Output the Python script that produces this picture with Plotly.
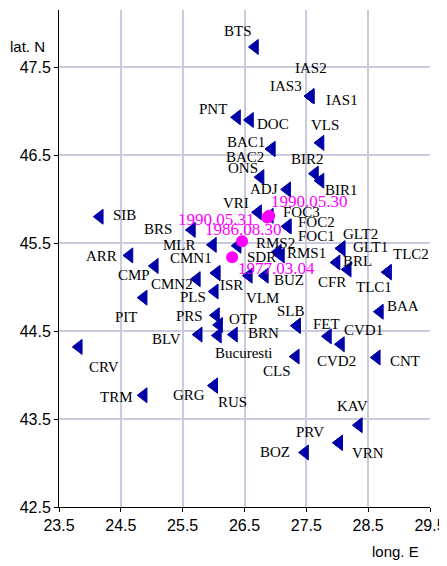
import plotly.graph_objects as go

# seismic stations (longitude E, latitude N)
stations = ['BTS', 'IAS1', 'IAS2', 'IAS3', 'PNT', 'DOC', 'VLS', 'BAC1', 'BAC2', 'ONS',
            'BIR2', 'BIR1', 'ADJ', 'VRI', 'FOC3', 'FOC2', 'FOC1', 'SIB', 'BRS', 'MLR',
            'SDR', 'RMS2', 'RMS1', 'GLT2', 'GLT1', 'BRL', 'CFR', 'TLC2', 'TLC1', 'ARR',
            'CMP', 'CMN2', 'CMN1', 'ISR', 'PLS', 'VLM', 'BUZ', 'PIT', 'PRS', 'OTP',
            'BLV', 'Bucuresti', 'BRN', 'FET', 'SLB', 'CVD1', 'CVD2', 'BAA', 'CNT', 'CLS',
            'CRV', 'TRM', 'GRG', 'RUS', 'KAV', 'PRV', 'VRN', 'BOZ']
st_lon = [26.67, 27.57, 27.57, 27.57, 26.38, 26.59, 27.73, 26.94, 26.94, 26.76,
          27.64, 27.73, 27.19, 26.72, 26.91, 27.20, 27.20, 24.16, 25.65, 25.99,
          26.39, 27.04, 27.09, 28.07, 28.07, 27.99, 28.17, 28.82, 28.82, 24.64,
          25.05, 25.73, 26.05, 26.05, 26.02, 26.57, 26.83, 24.87, 26.04, 26.09,
          25.76, 26.07, 26.33, 27.35, 27.35, 27.85, 28.06, 28.69, 28.64, 27.33,
          23.82, 24.87, 26.01, 26.01, 28.35, 28.03, 28.03, 27.48]
st_lat = [47.73, 47.17, 47.17, 47.17, 46.93, 46.90, 46.64, 46.57, 46.57, 46.25,
          46.29, 46.21, 46.11, 45.85, 45.81, 45.69, 45.69, 45.80, 45.65, 45.48,
          45.47, 45.40, 45.36, 45.44, 45.44, 45.28, 45.20, 45.17, 45.17, 45.36,
          45.24, 45.09, 45.16, 45.16, 44.95, 45.13, 45.13, 44.88, 44.68, 44.57,
          44.46, 44.45, 44.46, 44.56, 44.56, 44.44, 44.35, 44.72, 44.20, 44.21,
          44.32, 43.77, 43.88, 43.88, 43.43, 43.23, 43.23, 43.12]

# earthquake epicentres
events = ['1990.05.30', '1990.05.31', '1986.08.30', '1977.03.04']
ev_lon = [26.90, 26.87, 26.46, 26.30]
ev_lat = [45.81, 45.79, 45.52, 45.34]

# label offsets in pixels (dx right, dy down)
st_off = {
    'BTS': (-17, -16), 'IAS1': (31, 4), 'IAS2': (0, -28), 'IAS3': (-25, -10),
    'PNT': (-24, -8), 'DOC': (23, 4), 'VLS': (4, -18), 'BAC1': (-26, -7),
    'BAC2': (-27, 8), 'ONS': (-18, -9), 'BIR2': (-7, -15), 'BIR1': (21, 9),
    'ADJ': (-23, 0), 'VRI': (-22, -9), 'FOC3': (32, -4), 'FOC2': (29, -4),
    'FOC1': (29, 10), 'SIB': (25, -2), 'BRS': (-34, -1), 'MLR': (-33, 0),
    'SDR': (24, 11), 'RMS2': (-2, -9), 'RMS1': (26, -2), 'GLT2': (19, -14),
    'GLT1': (29, -1), 'BRL': (21, -1), 'CFR': (-16, 12), 'TLC2': (23, -18),
    'TLC1': (-14, 15), 'ARR': (-28, 1), 'CMP': (-21, 9), 'CMN2': (-25, 5),
    'CMN1': (-26, -15), 'ISR': (15, 12), 'PLS': (-22, 6), 'VLM': (14, 22),
    'BUZ': (24, 4), 'PIT': (-17, 19), 'PRS': (-27, 1), 'OTP': (24, -6),
    'BLV': (-32, 4), 'Bucuresti': (26, 18), 'BRN': (30, -2), 'FET': (29, -2),
    'SLB': (-6, -15), 'CVD1': (36, -6), 'CVD2': (-4, 17), 'BAA': (23, -6),
    'CNT': (28, 4), 'CLS': (-19, 14), 'CRV': (25, 20), 'TRM': (-27, 2),
    'GRG': (-25, 9), 'RUS': (18, 16), 'KAV': (-6, -19), 'PRV': (-29, -11),
    'VRN': (29, 10), 'BOZ': (-30, 0),
}
ev_off = [(40, -14), (-51, 2), (1, -12), (44, 11)]

NAVY = '#0000a8'
MAGENTA = '#ff00ff'
GRID = '#cacade'
SERIF = 'Liberation Serif, Times New Roman, serif'
SANS = 'Liberation Sans, Arial, sans-serif'

fig = go.Figure()
fig.add_trace(go.Scatter(
    x=st_lon, y=st_lat, mode='markers',
    marker=dict(symbol='triangle-left', size=13, color=NAVY,
                line=dict(color=NAVY, width=1)),
    hovertext=stations, showlegend=False,
))
fig.add_trace(go.Scatter(
    x=ev_lon, y=ev_lat, mode='markers',
    marker=dict(symbol='circle', size=12, color=MAGENTA),
    hovertext=events, showlegend=False,
))

for name, x, y in zip(stations, st_lon, st_lat):
    dx, dy = st_off[name]
    fig.add_annotation(x=x, y=y, text=name, showarrow=False,
                       xshift=dx, yshift=-dy,
                       font=dict(family=SERIF, size=15, color='black'))

for name, x, y, (dx, dy) in zip(events, ev_lon, ev_lat, ev_off):
    fig.add_annotation(x=x, y=y, text=name, showarrow=False,
                       xshift=dx, yshift=-dy,
                       font=dict(family=SERIF, size=17, color=MAGENTA))

# axis captions
fig.add_annotation(xref='paper', yref='paper', x=-0.084, y=0.926, text='lat. N',
                   xanchor='center', yanchor='middle', showarrow=False,
                   font=dict(family=SANS, size=15, color='black'))
fig.add_annotation(xref='paper', yref='paper', x=0.906, y=-0.089, text='long. E',
                   xanchor='center', yanchor='middle', showarrow=False,
                   font=dict(family=SANS, size=15, color='black'))

fig.update_xaxes(
    range=[23.5, 29.5], tick0=23.5, dtick=1, tickformat='.1f',
    showgrid=True, gridcolor=GRID, gridwidth=1.5, zeroline=False,
    showline=True, linecolor='black', linewidth=1,
    ticks='outside', ticklen=4, tickcolor='black',
    tickfont=dict(family=SANS, size=16, color='black'),
)
fig.update_yaxes(
    range=[42.5, 48.15], tick0=42.5, dtick=1, tickformat='.1f',
    showgrid=True, gridcolor=GRID, gridwidth=1.5, zeroline=False,
    showline=True, linecolor='black', linewidth=1,
    ticks='outside', ticklen=4, tickcolor='black',
    tickfont=dict(family=SANS, size=16, color='black'),
)
# page body adds an 8px margin, so the figure is sized to fit inside it
fig.update_layout(
    width=439, height=558,
    margin=dict(l=51, r=17, t=2, b=59),
    plot_bgcolor='white', paper_bgcolor='white',
)
fig.write_html('out.html')
